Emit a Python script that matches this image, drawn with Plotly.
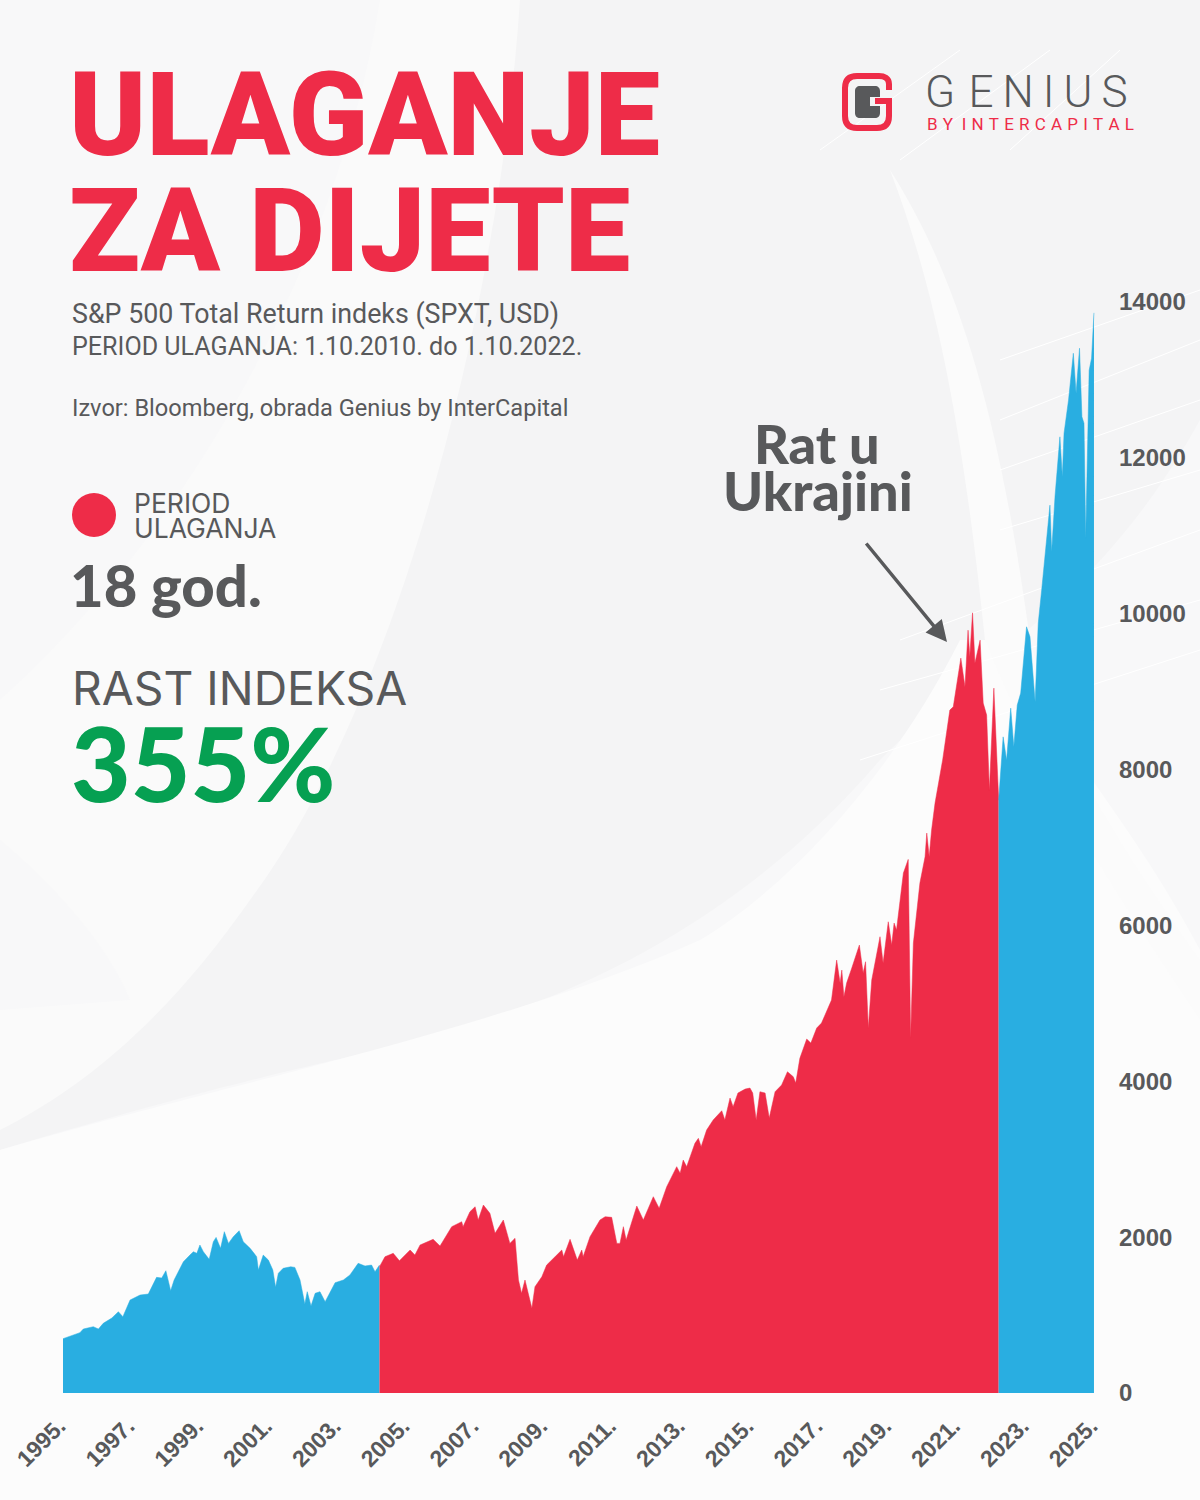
import re
import plotly.graph_objects as go

# colours
RED = "#ee2c48"
BLUE = "#29aee1"
GREEN = "#06a052"
GRAY = "#58595b"

# index, three pieces of the same line
years_before = [1995.00, 1995.20, 1995.49, 1995.59, 1995.69, 1995.88, 1996.03, 1996.17, 1996.42, 1996.61, 1996.74,
                1996.95, 1997.24, 1997.48, 1997.72, 1997.87, 1997.99, 1998.13, 1998.23, 1998.50, 1998.69, 1998.79,
                1998.89, 1998.98, 1999.08, 1999.25, 1999.37, 1999.45, 1999.58, 1999.69, 1999.81, 1999.95, 2000.12,
                2000.24, 2000.44, 2000.63, 2000.68, 2000.82, 2000.97, 2001.10, 2001.18, 2001.26, 2001.40, 2001.62,
                2001.74, 2001.89, 2002.03, 2002.10, 2002.21, 2002.33, 2002.47, 2002.62, 2002.91, 2003.15, 2003.34,
                2003.58, 2003.78, 2003.97, 2004.07, 2004.20]
values_before = [697, 731, 774, 821, 830, 851, 821, 894, 962, 1043, 979,
                 1193, 1257, 1270, 1484, 1475, 1569, 1312, 1450, 1685, 1770, 1813,
                 1792, 1899, 1813, 1715, 1941, 1997, 1856, 2070, 1920, 2005, 2082,
                 1941, 1856, 1749, 1578, 1770, 1706, 1578, 1356, 1536, 1600, 1620,
                 1612, 1450, 1142, 1300, 1116, 1279, 1300, 1171, 1415, 1450, 1514,
                 1664, 1630, 1642, 1556, 1642]

years_period = [2004.20, 2004.36, 2004.60, 2004.78, 2005.09, 2005.23, 2005.38, 2005.76, 2005.96, 2006.30, 2006.59,
                2006.63, 2006.83, 2006.98, 2007.07, 2007.22, 2007.41, 2007.56, 2007.80, 2007.99, 2008.14, 2008.24,
                2008.33, 2008.43, 2008.63, 2008.72, 2008.92, 2009.06, 2009.50, 2009.55, 2009.74, 2009.95, 2010.08,
                2010.12, 2010.32, 2010.61, 2010.76, 2010.95, 2011.10, 2011.19, 2011.29, 2011.37, 2011.68, 2011.87,
                2012.16, 2012.33, 2012.55, 2012.84, 2012.94, 2013.03, 2013.13, 2013.37, 2013.47, 2013.55, 2013.71,
                2013.90, 2014.15, 2014.24, 2014.39, 2014.48, 2014.62, 2014.83, 2014.97, 2015.05, 2015.15, 2015.26,
                2015.41, 2015.53, 2015.70, 2015.89, 2016.06, 2016.23, 2016.30, 2016.42, 2016.62, 2016.74, 2016.91,
                2017.05, 2017.34, 2017.49, 2017.59, 2017.64, 2017.70, 2017.78, 2017.93, 2018.15, 2018.26, 2018.33,
                2018.41, 2018.51, 2018.75, 2018.84, 2018.99, 2019.09, 2019.16, 2019.23, 2019.43, 2019.57, 2019.64,
                2019.72, 2019.91, 2020.06, 2020.11, 2020.18, 2020.25, 2020.35, 2020.57, 2020.78, 2020.88, 2020.98,
                2021.10, 2021.22, 2021.31, 2021.36, 2021.44, 2021.51, 2021.66, 2021.75, 2021.85, 2021.93, 2022.06,
                2022.20]
values_period = [1620, 1749, 1792, 1697, 1835, 1770, 1899, 1972, 1886, 2134, 2198,
                 2134, 2326, 2390, 2220, 2412, 2305, 2049, 2220, 1920, 1985, 1450,
                 1279, 1450, 1087, 1364, 1492, 1642, 1835, 1749, 1972, 1706, 1835,
                 1749, 2005, 2220, 2262, 2254, 1920, 1920, 2134, 1963, 2399, 2220,
                 2519, 2370, 2647, 2904, 2819, 2989, 2904, 3204, 3268, 3160, 3374,
                 3503, 3622, 3503, 3785, 3674, 3849, 3900, 3913, 3849, 3503, 3866,
                 3849, 3528, 3866, 3952, 4122, 4058, 3977, 4294, 4542, 4490, 4683,
                 4747, 5042, 5555, 5260, 5427, 5084, 5260, 5453, 5748, 5388, 5534,
                 4683, 5299, 5855, 5517, 6047, 5748, 6030, 5940, 6672, 6847, 4555,
                 5773, 6543, 6880, 7185, 6880, 7223, 7570, 8121, 8763, 8805, 9109,
                 9430, 9062, 9789, 9447, 10011, 9366, 9661, 8853, 8699, 7736, 9045,
                 7608]

years_after = [2022.20, 2022.33, 2022.43, 2022.55, 2022.64, 2022.74, 2022.84, 2023.01, 2023.11, 2023.26, 2023.35,
               2023.40, 2023.45, 2023.69, 2023.74, 2023.84, 2023.98, 2024.05, 2024.10, 2024.23, 2024.37, 2024.45,
               2024.55, 2024.62, 2024.68, 2024.73, 2024.83, 2024.90, 2024.97]
values_after = [7608, 8420, 8121, 8788, 8292, 8827, 8981, 9832, 9704, 8869, 9879,
                10088, 10303, 11393, 10794, 11521, 12270, 11756, 12316, 12740, 13342, 12830,
                13407, 12526, 12445, 10970, 13124, 13279, 13861]

tick_years = list(range(1995, 2026, 2))
tick_labels = [f"{y}." for y in tick_years]
tick_values = list(range(0, 14001, 2000))
tick_value_labels = [str(v) for v in tick_values]


def fx(x):
    return x / 1200


def fy(y):
    return 1 - y / 1500


def path(d):
    # path written in page pixels, shapes want paper fractions
    parts = re.findall(r"[A-Za-z]|-?[\d.]+", d)
    out, is_x = [], True
    for p in parts:
        if p.isalpha():
            out.append(p)
            is_x = True
        else:
            out.append(f"{fx(float(p)):.5f}" if is_x else f"{fy(float(p)):.5f}")
            is_x = not is_x
    return " ".join(out)


def text(s, x, y, size, color=GRAY, family="Roboto", weight=400, anchor="left"):
    fig.add_annotation(text=s, x=fx(x), y=fy(y), xref="paper", yref="paper", showarrow=False,
                       xanchor=anchor, yanchor="middle", align="left", borderpad=0,
                       font=dict(family=family, size=size, color=color, weight=weight))


fig = go.Figure()
for xs, ys, col in [(years_before, values_before, BLUE),
                    (years_period, values_period, RED),
                    (years_after, values_after, BLUE)]:
    fig.add_trace(go.Scatter(x=xs, y=ys, mode="lines", fill="tozeroy", fillcolor=col,
                             line=dict(width=0.5, color=col), showlegend=False))

fig.update_layout(
    width=1200, height=1500, margin=dict(l=0, r=0, t=0, b=0, pad=0, autoexpand=False),
    paper_bgcolor="#f8f8f9", plot_bgcolor="rgba(0,0,0,0)", showlegend=False,
    xaxis=dict(domain=[fx(63), fx(1095)], range=[1995, 2025], tickmode="array", tickvals=tick_years,
               ticktext=tick_labels, tickangle=-45, ticks="", showgrid=False, zeroline=False, showline=False,
               automargin=False, ticklabelstandoff=14, ticklabelshift=-4,
               tickfont=dict(family="Liberation Sans", size=23, color=GRAY, weight=700)),
    yaxis=dict(domain=[fy(1393), fy(302)], range=[0, 14000], side="right", tickmode="array", tickvals=tick_values,
               ticktext=tick_value_labels, ticks="", showgrid=False, zeroline=False, showline=False,
               automargin=False, ticklabelstandoff=23,
               tickfont=dict(family="Liberation Sans", size=24, color=GRAY, weight=700)),
)

# background swooshes
bg = [
    ("M 0 0 L 1200 0 L 1200 420 C 1100 600 1000 640 880 760 C 760 900 600 1000 380 1050 C 220 1085 100 1120 0 1150 Z", "#f4f4f5"),
    ("M 0 0 L 520 0 C 500 300 400 700 250 900 C 180 1000 100 1080 0 1130 Z", "#fafafa"),
    ("M 0 0 L 380 0 C 340 250 200 520 0 700 Z", "#f8f8f9"),
    ("M 0 1150 C 220 1085 500 1030 700 940 C 800 880 900 760 960 640 L 1020 640 C 1060 760 1120 800 1200 950 L 1200 1500 L 0 1500 Z", "#fcfcfc"),
    ("M 890 170 C 960 280 1000 420 1030 640 C 1060 760 1130 860 1200 960 L 1200 1020 C 1120 900 1040 780 985 640 C 965 450 940 300 890 170 Z", "#fbfbfb"),
    ("M 0 840 C 60 890 110 950 130 1000 L 0 1010 Z", "#f8f8f9"),
]
shapes = [dict(type="path", xref="paper", yref="paper", path=path(d), fillcolor=c,
               line=dict(width=0), layer="below") for d, c in bg]
# thin streaks top right
for x0, y0, x1, y1 in [(1000, 360, 1200, 290), (1000, 420, 1200, 340), (1000, 470, 1200, 400), (1000, 530, 1200, 470),
                       (900, 640, 1200, 530), (880, 690, 1200, 600), (860, 760, 1200, 650), (820, 150, 960, 50),
                       (900, 160, 1050, 50), (1010, 150, 1120, 50)]:
    shapes.append(dict(type="line", xref="paper", yref="paper", x0=fx(x0), y0=fy(y0), x1=fx(x1), y1=fy(y1),
                       line=dict(color="#ffffff", width=1), layer="below"))

# legend dot
shapes.append(dict(type="circle", xref="paper", yref="paper", x0=fx(72), x1=fx(116), y0=fy(537), y1=fy(493),
                   fillcolor=RED, line=dict(width=0)))

# logo
shapes.append(dict(type="path", xref="paper", yref="paper",
                   path=path("M 889 90 L 889 84 C 889 78 884 76 879 76 L 857 76 C 849 76 845 80 845 88 L 845 116 "
                             "C 845 124 849 128 857 128 L 877 128 C 885 128 889 124 889 116 L 889 101 L 875 101"),
                   line=dict(color=RED, width=6), layer="above"))
shapes.append(dict(type="path", xref="paper", yref="paper",
                   path=path("M 860 86 L 875 86 C 878 86 880 88 880 91 L 880 97 L 870 97 L 870 106 L 880 106 L 880 113 "
                             "C 880 116 878 118 875 118 L 860 118 C 857 118 855 116 855 113 L 855 91 C 855 88 857 86 860 86 Z"),
                   fillcolor=GRAY, line=dict(width=0), layer="above"))
fig.update_layout(shapes=shapes)

text("ULAGANJE", 68, 115, 116.5, RED, "Roboto", 900)
text("ZA DIJETE", 68, 231, 116.5, RED, "Roboto", 900)
text("S&amp;P 500 Total Return indeks (SPXT, USD)", 71, 314, 26.8)
text("PERIOD ULAGANJA: 1.10.2010. do 1.10.2022.", 71, 346, 25.1)
text("Izvor: Bloomberg, obrada Genius by InterCapital", 71, 408, 23.6)
text("PERIOD", 133, 503, 26.5, family="Inter")
text("ULAGANJA", 133, 528, 26.5, family="Inter")
text("18 god.", 69, 584, 58, family="Lato", weight=900)
text("RAST INDEKSA", 71, 688, 46.3, family="Inter")
text("355%", 70, 762, 103, GREEN, "Lato", 900)
text("Rat u", 753, 443, 54, family="Lato", weight=900)
text("Ukrajini", 722, 491, 54, family="Lato", weight=900)
text("G\u200a\u200a\u200aE\u200a\u200aN\u200a\u200aI\u200a\u200aU\u200a\u200aS", 924, 92, 44, family="Roboto", weight=300)
text("B\u2009\u200aY\u2002I\u2009\u200aN\u2009\u200aT\u2009\u200aE\u2009\u200aR\u2009\u200aC\u2009\u200aA\u2009\u200aP\u2009\u200aI\u2009\u200aT\u2009\u200aA\u2009\u200aL", 926, 124, 17, RED, "Roboto")

# arrow to the war peak
fig.add_annotation(x=fx(947), y=fy(642), ax=-82, ay=-100, xref="paper", yref="paper",
                   text="", showarrow=True, arrowhead=2, arrowsize=1.2, arrowwidth=3.5, arrowcolor=GRAY)

fig.write_html("out.html", config={"displayModeBar": False}, post_script="document.body.style.margin='0';")
